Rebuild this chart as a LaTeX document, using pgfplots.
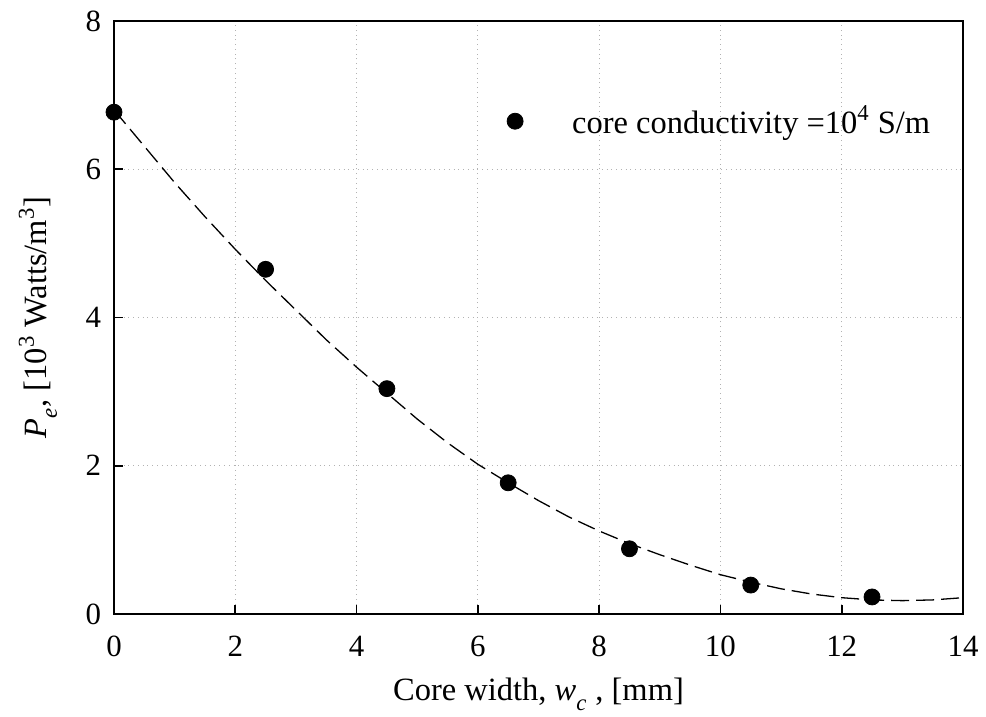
\documentclass[border=0pt]{standalone}
\usepackage{pgfplots}
\pgfplotsset{compat=1.18}
\usepackage{fontspec}
\setmainfont{Liberation Serif}
\begin{document}
\begin{tikzpicture}
\begin{axis}[
  scale only axis,
  width=424.5bp, height=296.5bp,
  xmin=0, xmax=14, ymin=0, ymax=8,
  xtick={0,2,...,14}, ytick={0,2,...,8},
  tick pos=left, tick align=inside,
  major tick length=4.5bp,
  axis line style={line width=1bp},
  tick style={line width=0.9bp, black},
  grid=major,
  major grid style={dotted, gray!60, line width=0.6pt},
  /pgf/number format/assume math mode=true,
  tick label style={font=\fontsize{15.5}{17}\selectfont},
  xticklabel style={yshift=-7.5bp},
  yticklabel style={xshift=-3bp},
  label style={font=\fontsize{16.3}{18}\selectfont},
  xlabel={Core width, \textit{w}\raisebox{-0.35ex}{\textsubscript{\textit{c}}} , [mm]},
  ylabel={\textit{P}\raisebox{-0.35ex}{\textsubscript{\textit{e}}}, [10\textsuperscript{3} Watts/m\textsuperscript{3}]},
  xlabel style={at={(axis description cs:0.5,0)}, anchor=base, yshift=-43bp},
  ylabel style={at={(axis description cs:0,0.5)}, anchor=center, yshift=38bp},
  legend style={draw=none, fill=none, at={(0.472,0.831)}, anchor=west, xshift=-7bp,
    font=\fontsize{16.3}{18}\selectfont},
  legend cell align=left,
]
\addplot[black, line width=0.65bp, dash pattern=on 9bp off 3.5bp, forget plot] coordinates {
(0,6.80) (0.5,6.31) (1,5.82) (1.5,5.36) (2,4.92) (2.5,4.50) (3,4.10) (3.5,3.70)
(4,3.33) (4.5,2.98) (5,2.63) (5.5,2.31) (6,2.02) (6.5,1.77) (7,1.53) (7.5,1.31)
(8,1.12) (8.5,0.95) (9,0.80) (9.5,0.66) (10,0.53) (10.5,0.43) (11,0.34) (11.5,0.27)
(12,0.22) (12.5,0.19) (13,0.18) (13.5,0.19) (14,0.22)
};
\addplot[only marks, mark=*, mark size=4bp, black] coordinates {
(0,6.77) (2.5,4.65) (4.5,3.04) (6.5,1.77) (8.5,0.88) (10.5,0.39) (12.5,0.23)
};
\addlegendentry{\hspace*{22.5bp}core conductivity =10\textsuperscript{4} S/m}
\end{axis}
\pgfresetboundingbox
\path ([xshift=-57bp,yshift=-51.5bp]current axis.south west) rectangle ([xshift=11.5bp,yshift=10.5bp]current axis.north east);
\end{tikzpicture}
\end{document}
